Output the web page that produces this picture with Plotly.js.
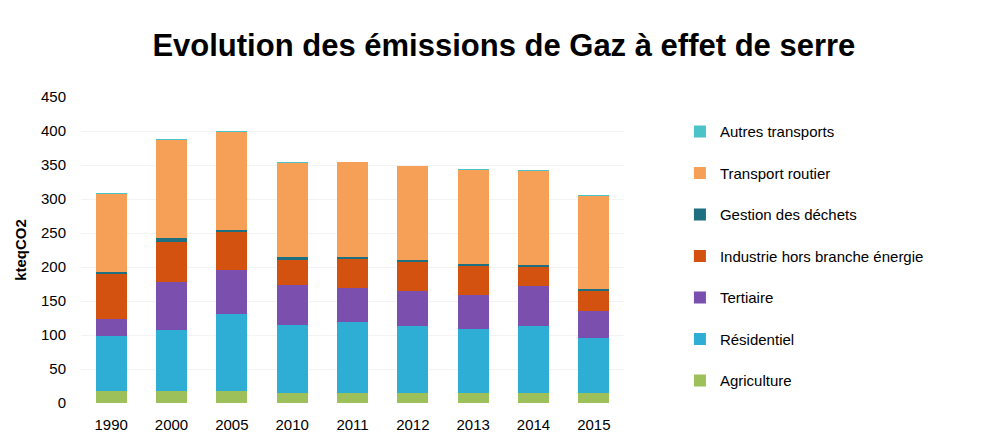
<!DOCTYPE html>
<html>
<head>
<meta charset="utf-8">
<script src="https://cdn.plot.ly/plotly-3.0.1.min.js"></script>
<style>html,body{margin:0;padding:0;background:#fff;}#chart{width:986px;height:435px;}</style>
</head>
<body>
<div id="chart"></div>
<script>
const years = ["1990","2000","2005","2010","2011","2012","2013","2014","2015"];
const agriculture = [17, 18, 17, 15, 15, 15, 15, 15, 14];
const residentiel = [82, 90, 114, 99, 104, 98, 94, 98, 81];
const tertiaire = [25, 70, 64, 60, 50, 51, 50, 59, 41];
const industrie = [66, 59, 56, 37, 43, 44, 42, 28, 28];
const dechets = [2, 5, 3, 3, 3, 3, 3, 3, 3];
const transportRoutier = [116, 145, 145, 139, 139, 137, 139, 138, 138];
const autresTransports = [1, 1, 1, 1, 1, 1, 1, 1, 1];

const seriesNames = ["Agriculture","Résidentiel","Tertiaire","Industrie hors branche énergie","Gestion des déchets","Transport routier","Autres transports"];
const seriesValues = [agriculture, residentiel, tertiaire, industrie, dechets, transportRoutier, autresTransports];
const seriesColors = ["#9dc05a","#2eaed4","#7b4fae","#d4520f","#1e6f80","#f6a057","#4cc3c6"];

const traces = seriesNames.map((n, i) => ({
  type: "bar",
  name: n,
  x: years,
  y: seriesValues[i],
  legendgroup: "g" + i,
  legendrank: 1000 - i,
  marker: {color: seriesColors[i], line: {width: 0}},
  hoverinfo: "x+y+name"
}));

const layout = {
  width: 986, height: 435,
  paper_bgcolor: "#ffffff", plot_bgcolor: "#ffffff",
  barmode: "stack",
  bargap: 0.49,
  font: {family: "Liberation Sans, Arial, sans-serif", size: 15, color: "#000"},
  title: {text: "<b>Evolution des émissions de Gaz à effet de serre</b>", x: 0.511, xanchor: "center", y: 0.897, yanchor: "middle", font: {size: 31, color: "#000"}},
  margin: {l: 81, r: 362, t: 97, b: 32},
  xaxis: {type: "category", showline: false, ticks: "outside", ticklen: 8, tickcolor: "rgba(0,0,0,0)", tickfont: {size: 15}, showgrid: false, zeroline: false},
  yaxis: {range: [0, 450], dtick: 50, showgrid: true, gridcolor: "#f3f3f3", zeroline: false, showline: false, ticks: "outside", ticklen: 11, tickcolor: "rgba(0,0,0,0)", tickfont: {size: 15},
          title: {text: "<b>kteqCO2</b>", font: {size: 15}, standoff: 10}},
  legend: {x: 1.103, xanchor: "left", y: 0.94, yanchor: "top", traceorder: "grouped", tracegroupgap: 19, font: {size: 15}},
  showlegend: true
};

Plotly.newPlot("chart", traces, layout, {displayModeBar: false, staticPlot: true});
</script>
</body>
</html>
